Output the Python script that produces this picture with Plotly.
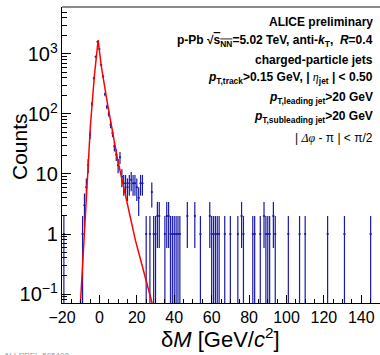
import plotly.graph_objects as go
import numpy as np

# ---- data ----
bin_centers = [-19, -9, -8, -7, -6, -5, -4, -3, -2, -1, 0, 1, 2, 3, 4, 5, 6, 7, 8, 9, 10,
               11, 12, 13, 14, 15, 16, 17, 18, 19, 20, 21, 22, 23, 25, 27, 28, 29, 30,
               31, 32, 35, 36, 37, 38, 39, 40, 41, 42, 43, 47, 51, 54, 59, 60, 61, 62,
               63, 64, 67, 70, 74, 76, 77, 82, 83, 86, 88, 89, 90, 91, 93, 94, 101,
               107, 110, 122, 131, 145]
counts = [1, 1, 3, 6, 14, 45, 147, 394, 900, 1600, 1210, 655, 420, 213, 131, 100, 66, 48, 29, 21, 14,
          19, 9, 7, 7, 6, 7, 8, 7, 7, 6, 4, 7, 7, 1, 1, 5, 1, 1,
          2, 2, 1, 2, 2, 1, 1, 1, 1, 1, 1, 2, 2, 1, 2, 1, 1, 1,
          1, 1, 1, 1, 1, 2, 1, 1, 1, 1, 2, 1, 1, 1, 2, 1, 1,
          1, 1, 1, 1, 1]
bin_half_width = 0.5

fit_x = [-10.4, -6.23, -4.79, -2.66, -0.68, 0.9, 4.17, 9.78, 12.13, 19.22, 28.13, 29.4]
fit_y = [0.05, 10.4, 65.6, 447, 1711, 655, 158, 17.1, 7.9, 0.79, 0.0716, 0.05]

x_ticks = [-20, 0, 20, 40, 60, 80, 100, 120, 140]

label_lines = [
    "<b>ALICE preliminary</b>",
    "<b>p-Pb √<span style='text-decoration:overline'>s<sub>NN</sub></span>=5.02 TeV, anti-<i>k</i><sub>T</sub>,  <i>R</i>=0.4</b>",
    "<b>charged-particle jets</b>",
    "<b><i>p</i><sub>T,track</sub>&gt;0.15 GeV, | </b><span style='font-family:Liberation Serif'><i>η</i></span><b><sub>jet</sub> | &lt; 0.50</b>",
    "<b><i>p</i><sub>T,leading jet</sub>&gt;20 GeV</b>",
    "<b><i>p</i><sub>T,subleading jet</sub>&gt;20 GeV</b>",
    "| <span style='font-family:Liberation Serif'><i>Δφ</i></span> - π | &lt; π/2",
]
label_py = [22, 41, 60, 78, 98, 117, 138]

# ---- figure ----
W, H = 380, 355
ml, mr, mt, mb = 62, 0, 7, 52
pw, ph = W - ml - mr, H - mt - mb

def px2paper_y(py):
    return (H - mb - py) / ph

def px2paper_x(px):
    return (px - ml) / pw

blue = "rgb(25,25,170)"
err = [float(np.sqrt(c)) for c in counts]

fig = go.Figure()
fig.add_trace(go.Scatter(
    x=bin_centers, y=counts, mode="markers",
    marker=dict(size=2, color=blue),
    error_y=dict(type="data", array=err, symmetric=True, width=0, thickness=1.2, color=blue),
    error_x=dict(type="constant", value=bin_half_width, width=0, thickness=1, color=blue),
    cliponaxis=True,
))
fig.add_trace(go.Scatter(
    x=fit_x, y=fit_y, mode="lines",
    line=dict(color="#ff0000", width=1.5),
))

font_family = "Liberation Sans, Arial, sans-serif"

fig.update_layout(
    width=W, height=H,
    margin=dict(l=ml, r=mr, t=mt, b=mb),
    paper_bgcolor="white", plot_bgcolor="white",
    showlegend=False,
    font=dict(family=font_family, color="black"),
    xaxis=dict(
        range=[-20, 150], tickmode="array", tickvals=x_ticks,
        ticks="inside", ticklen=8, tickwidth=1, tickcolor="black",
        showline=True, linecolor="black", linewidth=1,
        showgrid=False, zeroline=False,
        tickfont=dict(size=16, family=font_family),
        minor=dict(ticks="inside", ticklen=4, dtick=5, tick0=0, tickcolor="black", showgrid=False),
    ),
    yaxis=dict(
        type="log", range=[-1.15, 3.783], dtick=1, exponentformat="power",
        ticks="inside", ticklen=9, tickwidth=1, tickcolor="black",
        showline=True, linecolor="black", linewidth=1,
        showgrid=False, zeroline=False,
        tickfont=dict(size=16, family=font_family),
        minor=dict(ticks="inside", ticklen=4.5, dtick="D1", tickcolor="black", showgrid=False),
    ),
    shapes=[dict(type="line", xref="paper", yref="paper", x0=0, x1=1, y0=1, y1=1,
                 line=dict(color="#8a8a8a", width=2))],
)

ann = []
for txt, py in zip(label_lines, label_py):
    ann.append(dict(text=txt, xref="paper", yref="paper", x=px2paper_x(375), y=px2paper_y(py),
                    xanchor="right", yanchor="middle", showarrow=False, align="right",
                    font=dict(size=12, family=font_family, color="black")))
ann.append(dict(text="Counts", xref="paper", yref="paper", x=px2paper_x(19), y=px2paper_y(147),
                xanchor="center", yanchor="middle", showarrow=False, textangle=-90,
                font=dict(size=21, family=font_family)))
ann.append(dict(text="δ<i>M</i> [GeV/<i>c</i><sup>2</sup>]", xref="paper", yref="paper",
                x=px2paper_x(220), y=px2paper_y(338), xanchor="center", yanchor="middle",
                showarrow=False, font=dict(size=22, family=font_family)))
ann.append(dict(text="ALI-PREL-505400", xref="paper", yref="paper",
                x=px2paper_x(2), y=px2paper_y(349), xanchor="left", yanchor="top",
                showarrow=False, font=dict(size=8, family=font_family, color="#999999")))
fig.update_layout(annotations=ann)

fig.write_html("out.html", config={"displayModeBar": False, "staticPlot": True},
               post_script="document.body.style.margin='0';document.body.style.padding='0';")
